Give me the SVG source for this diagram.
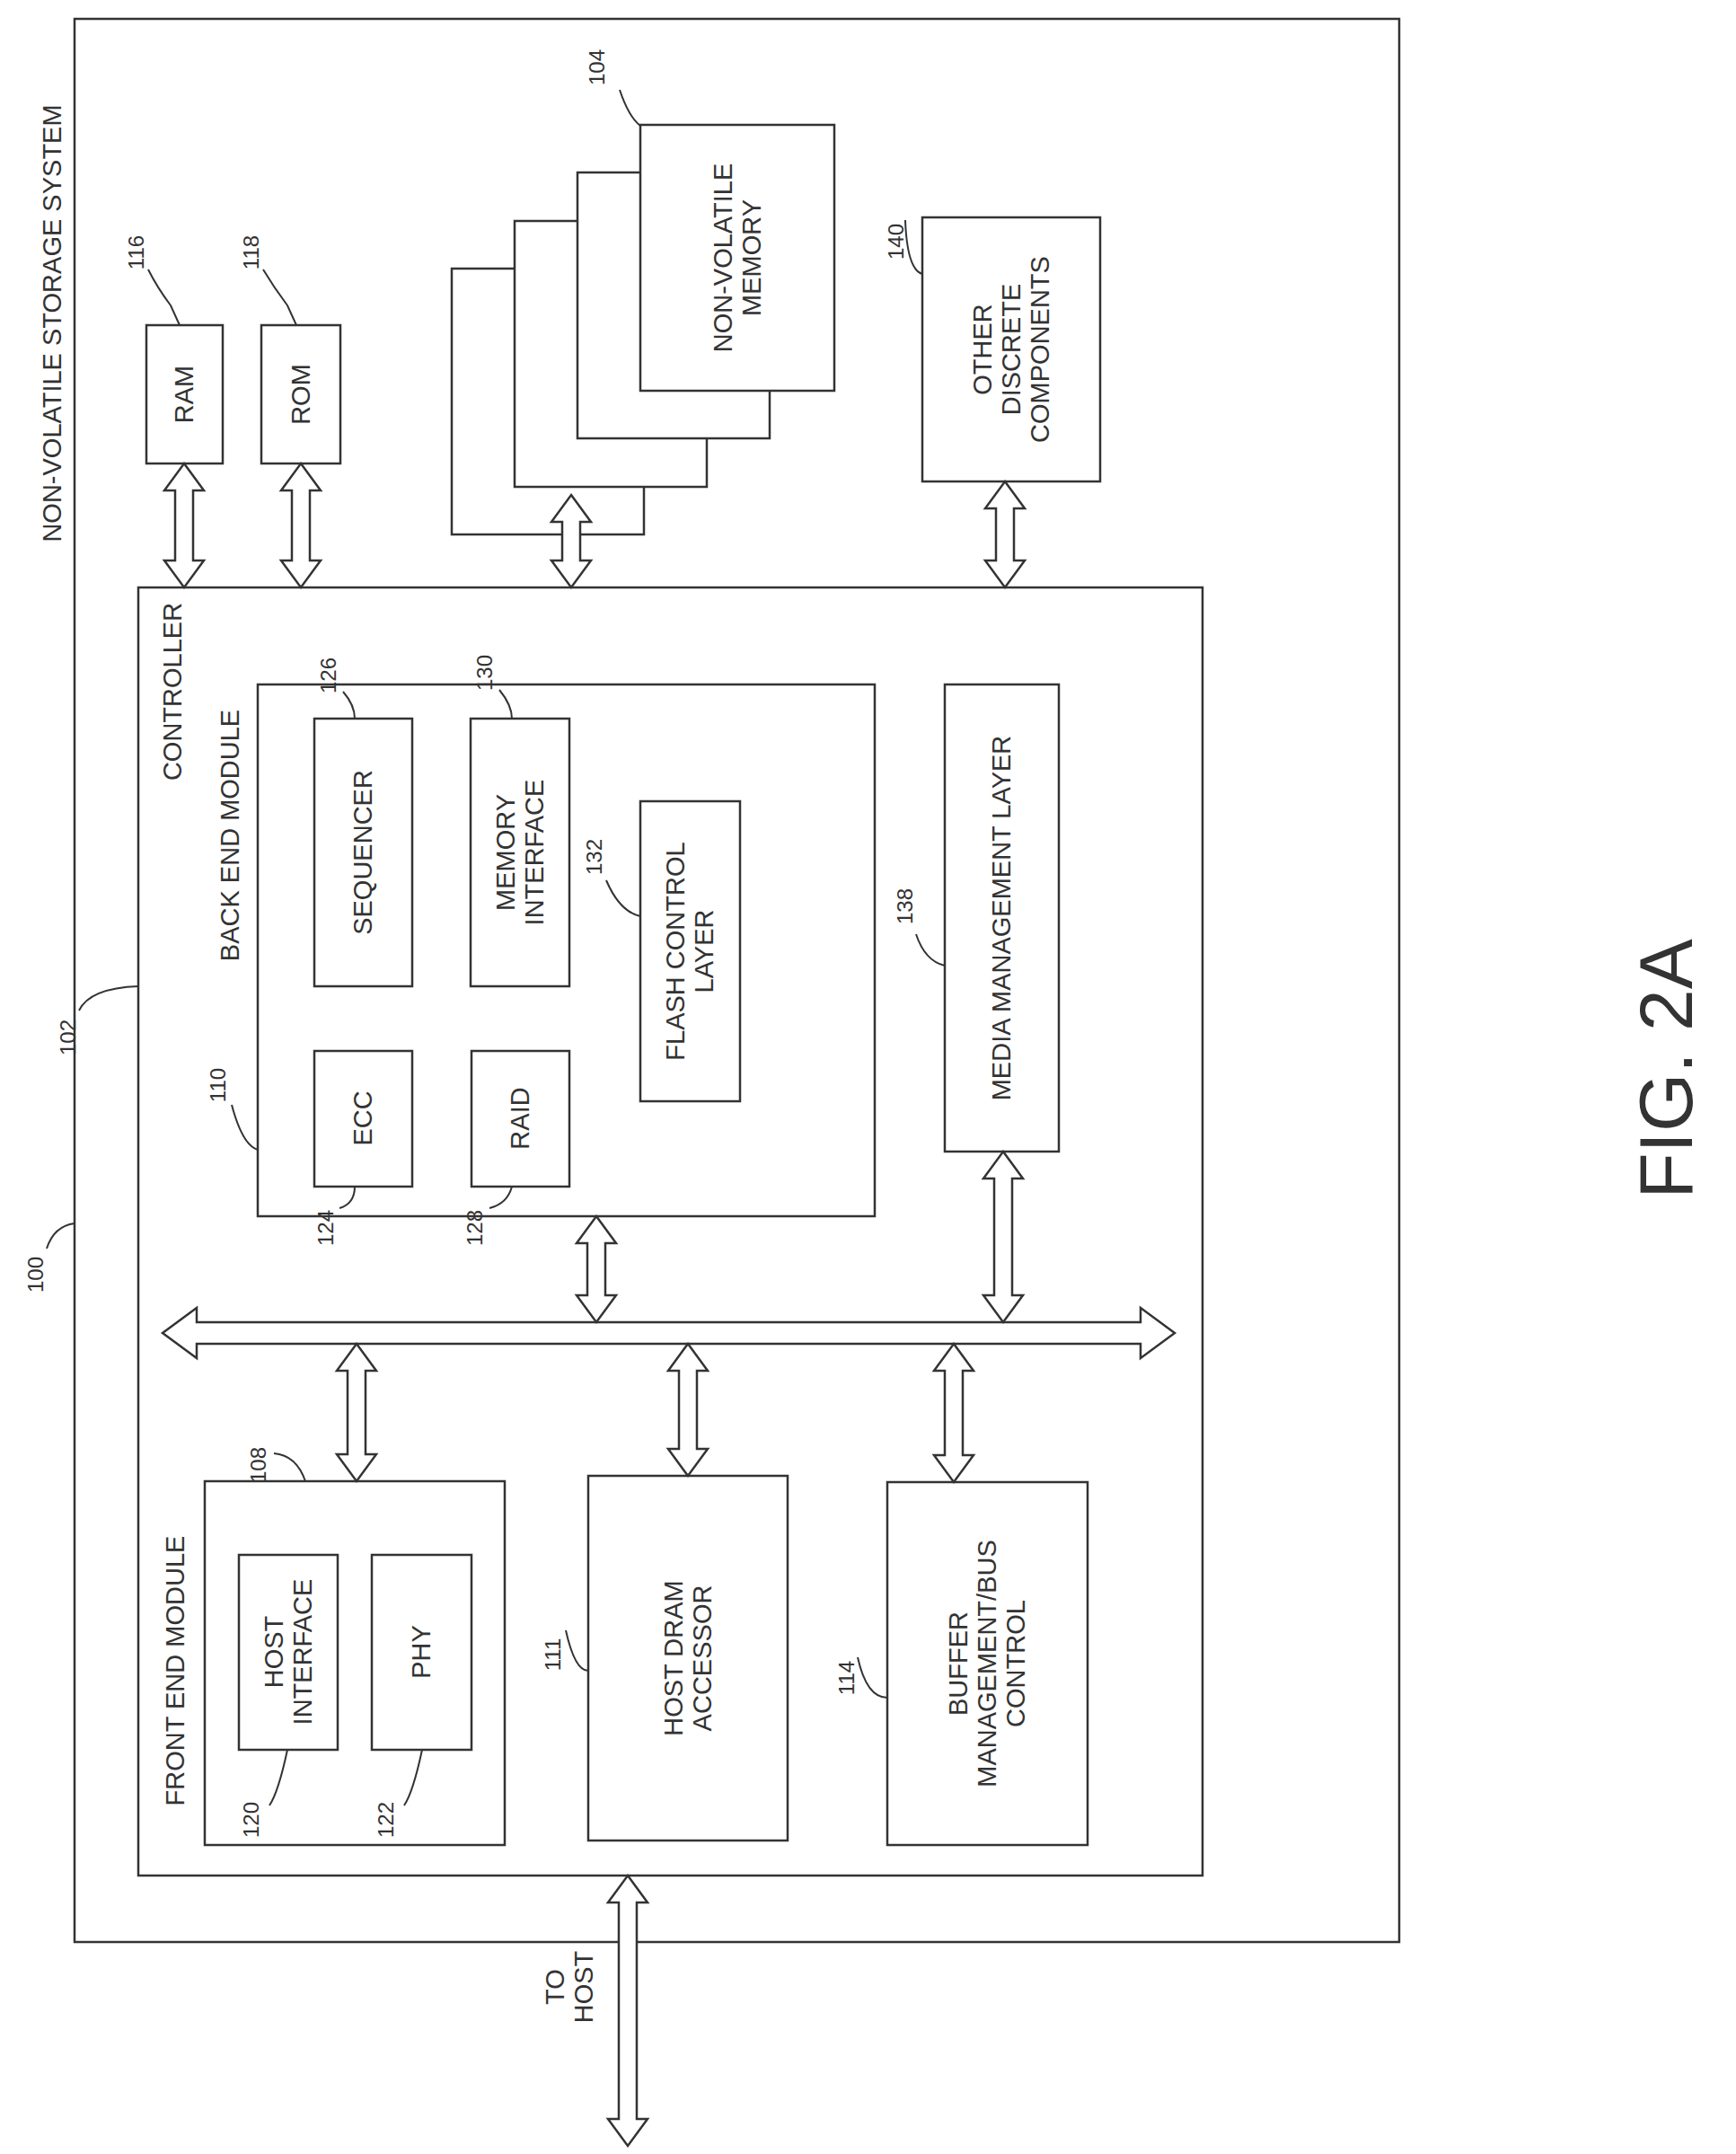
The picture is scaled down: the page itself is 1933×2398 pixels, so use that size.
<svg xmlns="http://www.w3.org/2000/svg" width="1933" height="2398" viewBox="0 0 1933 2398">
<style>
.b{fill:#fff;stroke:#333;stroke-width:2.5}
.a{fill:#fff;stroke:#333;stroke-width:2.5;stroke-linejoin:miter}
.t{font-family:"Liberation Sans",Arial,sans-serif;font-size:29px;fill:#333;text-anchor:middle;dominant-baseline:central}
.r{font-family:"Liberation Sans",Arial,sans-serif;font-size:24px;fill:#333;text-anchor:middle;dominant-baseline:central}
.l{fill:none;stroke:#333;stroke-width:2}
</style>
<rect width="1933" height="2398" fill="#fff"/>
<g id="system"><rect class="b" x="83" y="21" width="1475" height="2141"/>
<text class="t" transform="translate(58,360) rotate(-90)">NON-VOLATILE STORAGE SYSTEM</text></g>
<g id="ram"><rect class="b" x="163" y="362" width="85" height="154"/><text class="t" transform="translate(205,439) rotate(-90)">RAM</text></g>
<g id="rom"><rect class="b" x="291" y="362" width="88" height="154"/><text class="t" transform="translate(335,439) rotate(-90)">ROM</text></g>
<g id="nvm">
<rect class="b" x="503" y="299" width="214" height="296"/>
<rect class="b" x="573" y="246" width="214" height="296"/>
<rect class="b" x="643" y="192" width="214" height="296"/>
<rect class="b" x="713" y="139" width="216" height="296"/>
<text class="t" transform="translate(821,287) rotate(-90)"><tspan x="0" dy="-16">NON-VOLATILE</tspan><tspan x="0" dy="32">MEMORY</tspan></text></g>
<g id="other"><rect class="b" x="1027" y="242" width="198" height="294"/>
<text class="t" transform="translate(1126,389) rotate(-90)"><tspan x="0" dy="-32">OTHER</tspan><tspan x="0" dy="32">DISCRETE</tspan><tspan x="0" dy="32">COMPONENTS</tspan></text></g>
<g id="controller"><rect class="b" x="154" y="654" width="1185" height="1434"/>
<text class="t" transform="translate(192,770) rotate(-90)">CONTROLLER</text></g>
<g id="backend"><rect class="b" x="287" y="762" width="687" height="592"/>
<text class="t" transform="translate(256,930) rotate(-90)">BACK END MODULE</text></g>
<g id="seq"><rect class="b" x="350" y="800" width="109" height="298"/><text class="t" transform="translate(404,949) rotate(-90)">SEQUENCER</text></g>
<g id="memif"><rect class="b" x="524" y="800" width="110" height="298"/><text class="t" transform="translate(579,949) rotate(-90)"><tspan x="0" dy="-16">MEMORY</tspan><tspan x="0" dy="32">INTERFACE</tspan></text></g>
<g id="ecc"><rect class="b" x="350" y="1170" width="109" height="151"/><text class="t" transform="translate(404,1245) rotate(-90)">ECC</text></g>
<g id="raid"><rect class="b" x="525" y="1170" width="109" height="151"/><text class="t" transform="translate(579,1245) rotate(-90)">RAID</text></g>
<g id="fcl"><rect class="b" x="713" y="892" width="111" height="334"/><text class="t" transform="translate(768,1059) rotate(-90)"><tspan x="0" dy="-16">FLASH CONTROL</tspan><tspan x="0" dy="32">LAYER</tspan></text></g>
<g id="mml"><rect class="b" x="1052" y="762" width="127" height="520"/><text class="t" transform="translate(1115,1022) rotate(-90)">MEDIA MANAGEMENT LAYER</text></g>
<g id="frontend"><rect class="b" x="228" y="1649" width="334" height="405"/>
<text class="t" transform="translate(195,1860) rotate(-90)">FRONT END MODULE</text></g>
<g id="hostif"><rect class="b" x="266" y="1731" width="110" height="217"/><text class="t" transform="translate(321,1839) rotate(-90)"><tspan x="0" dy="-16">HOST</tspan><tspan x="0" dy="32">INTERFACE</tspan></text></g>
<g id="phy"><rect class="b" x="414" y="1731" width="111" height="217"/><text class="t" transform="translate(469,1839) rotate(-90)">PHY</text></g>
<g id="hda"><rect class="b" x="655" y="1643" width="222" height="406"/><text class="t" transform="translate(766,1846) rotate(-90)"><tspan x="0" dy="-16">HOST DRAM</tspan><tspan x="0" dy="32">ACCESSOR</tspan></text></g>
<g id="buf"><rect class="b" x="988" y="1650" width="223" height="404"/><text class="t" transform="translate(1099,1852) rotate(-90)"><tspan x="0" dy="-32">BUFFER</tspan><tspan x="0" dy="32">MANAGEMENT/BUS</tspan><tspan x="0" dy="32">CONTROL</tspan></text></g>
<g id="connectors">
<polygon class="a" points="181,1484 219,1456 219,1472 1270,1472 1270,1456 1308,1484 1270,1512 1270,1496 219,1496 219,1512"/>
<polygon class="a" points="205,516 227,546 215,546 215,624 227,624 205,654 183,624 195,624 195,546 183,546"/>
<polygon class="a" points="335,516 357,546 345,546 345,624 357,624 335,654 313,624 325,624 325,546 313,546"/>
<polygon class="a" points="636,551 658,581 646,581 646,624 658,624 636,654 614,624 626,624 626,581 614,581"/>
<polygon class="a" points="1119,536 1141,566 1129,566 1129,624 1141,624 1119,654 1097,624 1109,624 1109,566 1097,566"/>
<polygon class="a" points="664,1354 686,1384 674,1384 674,1442 686,1442 664,1472 642,1442 654,1442 654,1384 642,1384"/>
<polygon class="a" points="1117,1282 1139,1312 1127,1312 1127,1442 1139,1442 1117,1472 1095,1442 1107,1442 1107,1312 1095,1312"/>
<polygon class="a" points="397,1496 419,1526 407,1526 407,1619 419,1619 397,1649 375,1619 387,1619 387,1526 375,1526"/>
<polygon class="a" points="766,1496 788,1526 776,1526 776,1613 788,1613 766,1643 744,1613 756,1613 756,1526 744,1526"/>
<polygon class="a" points="1062,1496 1084,1526 1072,1526 1072,1620 1084,1620 1062,1650 1040,1620 1052,1620 1052,1526 1040,1526"/>
<polygon class="a" points="699,2088 721,2118 709,2118 709,2359 721,2359 699,2389 677,2359 689,2359 689,2118 677,2118"/>
<path class="l" d="M52,1390 Q60,1365 83,1362"/>
<path class="l" d="M88,1125 Q100,1100 154,1098"/>
<path class="l" d="M690,100 Q700,130 713,140"/>
<path class="l" d="M165,300 Q175,320 190,340 L200,362"/>
<path class="l" d="M293,300 Q305,320 320,340 L330,362"/>
<path class="l" d="M1008,245 Q1010,300 1027,305"/>
<path class="l" d="M382,770 Q395,785 395,800"/>
<path class="l" d="M556,768 Q570,785 570,800"/>
<path class="l" d="M675,980 Q690,1015 713,1020"/>
<path class="l" d="M1020,1040 Q1030,1070 1052,1075"/>
<path class="l" d="M258,1230 Q270,1275 287,1280"/>
<path class="l" d="M378,1345 Q395,1340 395,1321"/>
<path class="l" d="M545,1345 Q565,1340 570,1321"/>
<path class="l" d="M305,1618 Q330,1620 340,1649"/>
<path class="l" d="M630,1815 Q640,1860 655,1860"/>
<path class="l" d="M955,1845 Q965,1890 988,1890"/>
<path class="l" d="M300,2010 Q310,1995 320,1948"/>
<path class="l" d="M450,2010 Q460,1995 470,1948"/>
<text class="t" transform="translate(634,2212) rotate(-90)"><tspan x="0" dy="-16">TO</tspan><tspan x="0" dy="32">HOST</tspan></text>
<text x="0" y="0" style="font-family:'Liberation Sans',Arial,sans-serif;font-size:84px;fill:#333;text-anchor:middle;dominant-baseline:central" transform="translate(1855,1190) rotate(-90)">FIG. 2A</text>
</g>
<g id="refs">
<text class="r" transform="translate(39,1419) rotate(-90)">100</text>
<text class="r" transform="translate(75,1155) rotate(-90)">102</text>
<text class="r" transform="translate(664,75) rotate(-90)">104</text>
<text class="r" transform="translate(151,281) rotate(-90)">116</text>
<text class="r" transform="translate(279,281) rotate(-90)">118</text>
<text class="r" transform="translate(997,269) rotate(-90)">140</text>
<text class="r" transform="translate(365,752) rotate(-90)">126</text>
<text class="r" transform="translate(539,749) rotate(-90)">130</text>
<text class="r" transform="translate(661,954) rotate(-90)">132</text>
<text class="r" transform="translate(1007,1009) rotate(-90)">138</text>
<text class="r" transform="translate(242,1208) rotate(-90)">110</text>
<text class="r" transform="translate(362,1367) rotate(-90)">124</text>
<text class="r" transform="translate(528,1367) rotate(-90)">128</text>
<text class="r" transform="translate(287,1631) rotate(-90)">108</text>
<text class="r" transform="translate(615,1842) rotate(-90)">111</text>
<text class="r" transform="translate(942,1868) rotate(-90)">114</text>
<text class="r" transform="translate(279,2026) rotate(-90)">120</text>
<text class="r" transform="translate(429,2026) rotate(-90)">122</text>
</g>
</svg>
